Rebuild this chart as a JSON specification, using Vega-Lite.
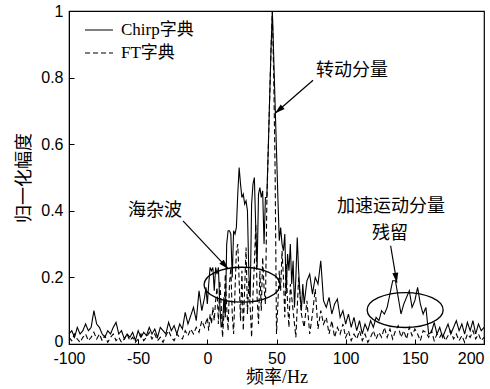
{
"$schema": "https://vega.github.io/schema/vega-lite/v6.json",
"width": 415, "height": 333,
"autosize": {"type": "none"},
"padding": {"left": 69, "top": 11, "right": 6, "bottom": 45},
"background": "white",
"config": {
  "view": {"stroke": "black", "strokeWidth": 1.2},
  "axis": {"domainColor": "black", "tickColor": "black", "labelColor": "black", "titleColor": "black", "grid": false, "tickSize": -5, "labelPadding": 11, "labelFont": "Liberation Sans", "labelFontSize": 16, "titleFontWeight": "normal", "labelFlush": false}
},
"datasets": {
"chirp": [
{"f":-100,"v":0.03},{"f":-98,"v":0.04},{"f":-96,"v":0.02},{"f":-94,"v":0.05},{"f":-92,"v":0.03},{"f":-90,"v":0.04},{"f":-88,"v":0.06},{"f":-86,"v":0.04},{"f":-84,"v":0.05},{"f":-82,"v":0.10},{"f":-80,"v":0.06},{"f":-78,"v":0.05},{"f":-76,"v":0.03},{"f":-74,"v":0.02},{"f":-72,"v":0.04},{"f":-70,"v":0.03},{"f":-68,"v":0.05},{"f":-66,"v":0.065},{"f":-64,"v":0.03},{"f":-62,"v":0.04},{"f":-60,"v":0.015},{"f":-58,"v":0.03},{"f":-56,"v":0.02},{"f":-54,"v":0.035},{"f":-52,"v":0.01},{"f":-50,"v":0.04},{"f":-48,"v":0.02},{"f":-46,"v":0.035},{"f":-44,"v":0.025},{"f":-42,"v":0.05},{"f":-40,"v":0.03},{"f":-38,"v":0.045},{"f":-36,"v":0.02},{"f":-34,"v":0.05},{"f":-32,"v":0.04},{"f":-30,"v":0.03},{"f":-28,"v":0.065},{"f":-26,"v":0.04},{"f":-24,"v":0.055},{"f":-22,"v":0.03},{"f":-20,"v":0.06},{"f":-18,"v":0.045},{"f":-16,"v":0.095},{"f":-14,"v":0.06},{"f":-12,"v":0.085},{"f":-10,"v":0.11},{"f":-8,"v":0.07},{"f":-6,"v":0.16},{"f":-4,"v":0.10},{"f":-2,"v":0.14},{"f":-1,"v":0.17},
{"f":0,"v":0.12},{"f":1,"v":0.18},{"f":2,"v":0.23},{"f":3,"v":0.22},{"f":4,"v":0.23},{"f":5,"v":0.16},{"f":6,"v":0.23},{"f":7,"v":0.21},{"f":8,"v":0.23},{"f":9,"v":0.12},{"f":10,"v":0.05},{"f":11,"v":0.06},{"f":12,"v":0.14},{"f":13,"v":0.08},{"f":14,"v":0.30},{"f":15,"v":0.34},{"f":16,"v":0.34},{"f":17,"v":0.33},{"f":18,"v":0.20},{"f":19,"v":0.34},{"f":20,"v":0.33},{"f":21,"v":0.35},{"f":22,"v":0.45},{"f":23,"v":0.53},{"f":24,"v":0.48},{"f":25,"v":0.44},{"f":26,"v":0.45},{"f":27,"v":0.42},{"f":28,"v":0.43},{"f":29,"v":0.40},{"f":30,"v":0.21},{"f":31,"v":0.14},{"f":32,"v":0.42},{"f":33,"v":0.48},{"f":34,"v":0.50},{"f":35,"v":0.35},{"f":36,"v":0.23},{"f":37,"v":0.45},{"f":38,"v":0.47},{"f":39,"v":0.44},{"f":40,"v":0.46},{"f":41,"v":0.30},{"f":42,"v":0.44},{"f":43,"v":0.44},{"f":44,"v":0.58},{"f":45,"v":0.73},{"f":46,"v":0.88},{"f":47,"v":1.0},{"f":48,"v":0.86},{"f":49,"v":0.72},{"f":50,"v":0.58},{"f":51,"v":0.44},{"f":52,"v":0.31},{"f":53,"v":0.35},{"f":54,"v":0.30},{"f":55,"v":0.28},{"f":56,"v":0.33},{"f":57,"v":0.15},{"f":58,"v":0.27},{"f":59,"v":0.22},{"f":60,"v":0.30},{"f":61,"v":0.18},{"f":62,"v":0.25},{"f":63,"v":0.11},{"f":64,"v":0.20},{"f":65,"v":0.32},{"f":66,"v":0.22},{"f":67,"v":0.15},{"f":68,"v":0.10},{"f":69,"v":0.18},{"f":70,"v":0.12},
{"f":72,"v":0.19},{"f":74,"v":0.21},{"f":76,"v":0.15},{"f":78,"v":0.20},{"f":80,"v":0.18},{"f":82,"v":0.25},{"f":84,"v":0.13},{"f":86,"v":0.11},{"f":88,"v":0.14},{"f":90,"v":0.09},{"f":92,"v":0.12},{"f":94,"v":0.135},{"f":96,"v":0.08},{"f":98,"v":0.10},{"f":100,"v":0.06},{"f":102,"v":0.09},{"f":104,"v":0.05},{"f":106,"v":0.08},{"f":108,"v":0.04},{"f":110,"v":0.07},{"f":112,"v":0.03},{"f":114,"v":0.06},{"f":116,"v":0.04},{"f":118,"v":0.07},{"f":120,"v":0.05},{"f":122,"v":0.08},{"f":124,"v":0.07},{"f":126,"v":0.10},{"f":128,"v":0.09},{"f":130,"v":0.11},{"f":132,"v":0.15},{"f":134,"v":0.19},{"f":136,"v":0.19},{"f":138,"v":0.14},{"f":140,"v":0.09},{"f":142,"v":0.12},{"f":144,"v":0.14},{"f":146,"v":0.16},{"f":148,"v":0.11},{"f":150,"v":0.13},{"f":152,"v":0.17},{"f":154,"v":0.12},{"f":156,"v":0.09},{"f":158,"v":0.11},{"f":160,"v":0.03},{"f":162,"v":0.035},{"f":164,"v":0.065},{"f":166,"v":0.03},{"f":168,"v":0.05},{"f":170,"v":0.02},{"f":172,"v":0.04},{"f":174,"v":0.06},{"f":176,"v":0.03},{"f":178,"v":0.05},{"f":180,"v":0.07},{"f":182,"v":0.04},{"f":184,"v":0.06},{"f":186,"v":0.03},{"f":188,"v":0.065},{"f":190,"v":0.04},{"f":192,"v":0.07},{"f":194,"v":0.03},{"f":196,"v":0.06},{"f":198,"v":0.04},{"f":200,"v":0.05}
],
"ft": [
{"f":-100,"v":0.02},{"f":-98,"v":0.01},{"f":-96,"v":0.03},{"f":-94,"v":0.015},{"f":-92,"v":0.005},{"f":-90,"v":0.02},{"f":-88,"v":0.03},{"f":-86,"v":0.01},{"f":-84,"v":0.02},{"f":-82,"v":0.035},{"f":-80,"v":0.015},{"f":-78,"v":0.03},{"f":-76,"v":0.01},{"f":-74,"v":0.025},{"f":-72,"v":0.005},{"f":-70,"v":0.02},{"f":-68,"v":0.03},{"f":-66,"v":0.01},{"f":-64,"v":0.02},{"f":-62,"v":0.005},{"f":-60,"v":0.015},{"f":-58,"v":0.03},{"f":-56,"v":0.01},{"f":-54,"v":0.02},{"f":-52,"v":0.005},{"f":-50,"v":0.015},{"f":-48,"v":0.03},{"f":-46,"v":0.01},{"f":-44,"v":0.02},{"f":-42,"v":0.035},{"f":-40,"v":0.015},{"f":-38,"v":0.03},{"f":-36,"v":0.01},{"f":-34,"v":0.02},{"f":-32,"v":0.005},{"f":-30,"v":0.025},{"f":-28,"v":0.04},{"f":-26,"v":0.02},{"f":-24,"v":0.01},{"f":-22,"v":0.03},{"f":-20,"v":0.02},{"f":-18,"v":0.015},{"f":-16,"v":0.04},{"f":-14,"v":0.025},{"f":-12,"v":0.045},{"f":-10,"v":0.03},{"f":-8,"v":0.05},{"f":-6,"v":0.035},{"f":-4,"v":0.07},{"f":-2,"v":0.05},
{"f":0,"v":0.08},{"f":1,"v":0.04},{"f":2,"v":0.09},{"f":3,"v":0.06},{"f":4,"v":0.11},{"f":5,"v":0.07},{"f":6,"v":0.13},{"f":7,"v":0.17},{"f":8,"v":0.06},{"f":9,"v":0.19},{"f":10,"v":0.12},{"f":11,"v":0.02},{"f":12,"v":0.09},{"f":13,"v":0.21},{"f":14,"v":0.11},{"f":15,"v":0.04},{"f":16,"v":0.18},{"f":17,"v":0.23},{"f":18,"v":0.09},{"f":19,"v":0.03},{"f":20,"v":0.16},{"f":21,"v":0.28},{"f":22,"v":0.30},{"f":23,"v":0.19},{"f":24,"v":0.07},{"f":25,"v":0.22},{"f":26,"v":0.04},{"f":27,"v":0.17},{"f":28,"v":0.29},{"f":29,"v":0.09},{"f":30,"v":0.19},{"f":31,"v":0.11},{"f":32,"v":0.02},{"f":33,"v":0.15},{"f":34,"v":0.24},{"f":35,"v":0.36},{"f":36,"v":0.14},{"f":37,"v":0.06},{"f":38,"v":0.22},{"f":39,"v":0.10},{"f":40,"v":0.26},{"f":41,"v":0.17},{"f":42,"v":0.12},{"f":43,"v":0.42},{"f":44,"v":0.58},{"f":45,"v":0.73},{"f":46,"v":0.88},{"f":47,"v":1.0},{"f":48,"v":0.80},{"f":49,"v":0.52},{"f":50,"v":0.03},{"f":51,"v":0.12},{"f":52,"v":0.22},{"f":53,"v":0.16},{"f":54,"v":0.28},{"f":55,"v":0.20},{"f":56,"v":0.08},{"f":57,"v":0.24},{"f":58,"v":0.12},{"f":59,"v":0.05},{"f":60,"v":0.18},
{"f":62,"v":0.10},{"f":64,"v":0.02},{"f":66,"v":0.20},{"f":68,"v":0.09},{"f":70,"v":0.05},{"f":72,"v":0.13},{"f":74,"v":0.03},{"f":76,"v":0.09},{"f":78,"v":0.165},{"f":80,"v":0.045},{"f":82,"v":0.10},{"f":84,"v":0.06},{"f":86,"v":0.08},{"f":88,"v":0.03},{"f":90,"v":0.07},{"f":92,"v":0.02},{"f":94,"v":0.05},{"f":96,"v":0.03},{"f":98,"v":0.06},{"f":100,"v":0.02},{"f":102,"v":0.04},{"f":104,"v":0.01},{"f":106,"v":0.03},{"f":108,"v":0.015},{"f":110,"v":0.04},{"f":112,"v":0.01},{"f":114,"v":0.03},{"f":116,"v":0.005},{"f":118,"v":0.02},{"f":120,"v":0.04},{"f":122,"v":0.015},{"f":124,"v":0.035},{"f":126,"v":0.02},{"f":128,"v":0.05},{"f":130,"v":0.02},{"f":132,"v":0.045},{"f":134,"v":0.015},{"f":136,"v":0.04},{"f":138,"v":0.055},{"f":140,"v":0.02},{"f":142,"v":0.04},{"f":144,"v":0.015},{"f":146,"v":0.05},{"f":148,"v":0.025},{"f":150,"v":0.045},{"f":152,"v":0.03},{"f":154,"v":0.01},{"f":156,"v":0.04},{"f":158,"v":0.035},{"f":160,"v":0.02},{"f":162,"v":0.04},{"f":164,"v":0.01},{"f":166,"v":0.03},{"f":168,"v":0.02},{"f":170,"v":0.035},{"f":172,"v":0.01},{"f":174,"v":0.025},{"f":176,"v":0.04},{"f":178,"v":0.015},{"f":180,"v":0.03},{"f":182,"v":0.01},{"f":184,"v":0.025},{"f":186,"v":0.005},{"f":188,"v":0.03},{"f":190,"v":0.02},{"f":192,"v":0.04},{"f":194,"v":0.015},{"f":196,"v":0.03},{"f":198,"v":0.01},{"f":200,"v":0.02}
],
"notes": [
{"f":104.6,"v":0.82,"t":"转动分量"},
{"f":-37.8,"v":0.40,"t":"海杂波"},
{"f":132.8,"v":0.41,"t":"加速运动分量"},
{"f":132,"v":0.33,"t":"残留"}
],
"ellipses": [{"f":25.1,"v":0.178},{"f":143,"v":0.102}],
"arrows": [
{"k":1,"f1":-17.6,"v1":0.37,"f2":15.2,"v2":0.225},
{"k":2,"f1":76.4,"v1":0.792,"f2":49,"v2":0.693},
{"k":3,"f1":132.5,"v1":0.295,"f2":137,"v2":0.184}
]
},
"layer": [
{
 "data": {"name": "ft"},
 "mark": {"type": "line", "color": "black", "strokeWidth": 1.1},
 "encoding": {
  "x": {"field": "f", "type": "quantitative", "scale": {"domain": [-100, 200], "nice": false, "zero": false},
        "axis": {"values": [-100,-50,0,50,100,150,200], "labelExpr": "replace(datum.label, '−', '-')",
                 "labelAlign": {"condition": {"test": "datum.value == 200", "value": "right"}, "value": "center"},
                 "labelBound": false,
                 "title": "频率/Hz", "titleFont": "Liberation Serif, Noto Sans CJK SC", "titleFontSize": 18, "titlePadding": 2}},
  "y": {"field": "v", "type": "quantitative", "scale": {"domain": [0, 1], "nice": false},
        "axis": {"values": [0,0.2,0.4,0.6,0.8,1], "format": "~g",
                 "labelOffset": {"condition": {"test": "datum.value == 0", "value": -3}, "value": 0},
                 "title": "归一化幅度", "titleFont": "Noto Sans CJK SC", "titleFontSize": 18, "titlePadding": 7}},
  "strokeDash": {"datum": "FT字典", "type": "nominal",
    "scale": {"domain": ["Chirp字典", "FT字典"], "range": [[1, 0], [5, 3]]},
    "legend": {"orient": "none", "legendX": 15, "legendY": 4, "title": null, "symbolType": "stroke", "symbolSize": 784, "symbolStrokeWidth": 1.1, "symbolStrokeColor": "black", "labelFont": "Liberation Serif, Noto Sans CJK SC", "labelFontSize": 17, "labelColor": "black", "labelOffset": 7, "rowPadding": 0}}
 }
},
{
 "data": {"name": "chirp"},
 "mark": {"type": "line", "color": "black", "strokeWidth": 1.1},
 "encoding": {
  "x": {"field": "f", "type": "quantitative"},
  "y": {"field": "v", "type": "quantitative"},
  "strokeDash": {"datum": "Chirp字典", "type": "nominal"}
 }
},
{
 "data": {"name": "ellipses"},
 "mark": {"type": "point", "shape": "M-1,0A1,0.46,0,1,1,1,0A1,0.46,0,1,1,-1,0Z", "size": 5776, "filled": false, "stroke": "black", "strokeWidth": 1.3, "opacity": 1},
 "encoding": {"x": {"field": "f", "type": "quantitative"}, "y": {"field": "v", "type": "quantitative"}}
},
{
 "data": {"name": "arrows"},
 "mark": {"type": "rule", "color": "black", "strokeWidth": 1.2},
 "encoding": {"x": {"field": "f1", "type": "quantitative"}, "y": {"field": "v1", "type": "quantitative"}, "x2": {"field": "f2"}, "y2": {"field": "v2"}}
},
{
 "data": {"name": "arrows"},
 "transform": [{"filter": "datum.k == 1"}],
 "mark": {"type": "point", "shape": "M0,0L-0.6,2L0.6,2Z", "size": 100, "filled": true, "color": "black", "opacity": 1, "angle": 137},
 "encoding": {"x": {"field": "f2", "type": "quantitative"}, "y": {"field": "v2", "type": "quantitative"}}
},
{
 "data": {"name": "arrows"},
 "transform": [{"filter": "datum.k == 2"}],
 "mark": {"type": "point", "shape": "M0,0L-0.6,2L0.6,2Z", "size": 100, "filled": true, "color": "black", "opacity": 1, "angle": 229},
 "encoding": {"x": {"field": "f2", "type": "quantitative"}, "y": {"field": "v2", "type": "quantitative"}}
},
{
 "data": {"name": "arrows"},
 "transform": [{"filter": "datum.k == 3"}],
 "mark": {"type": "point", "shape": "M0,0L-0.6,2L0.6,2Z", "size": 100, "filled": true, "color": "black", "opacity": 1, "angle": 171},
 "encoding": {"x": {"field": "f2", "type": "quantitative"}, "y": {"field": "v2", "type": "quantitative"}}
},
{
 "data": {"name": "notes"},
 "mark": {"type": "text", "font": "Noto Sans CJK SC", "fontSize": 18, "color": "black", "align": "center", "baseline": "middle"},
 "encoding": {"x": {"field": "f", "type": "quantitative"}, "y": {"field": "v", "type": "quantitative"}, "text": {"field": "t"}}
}
]
}
